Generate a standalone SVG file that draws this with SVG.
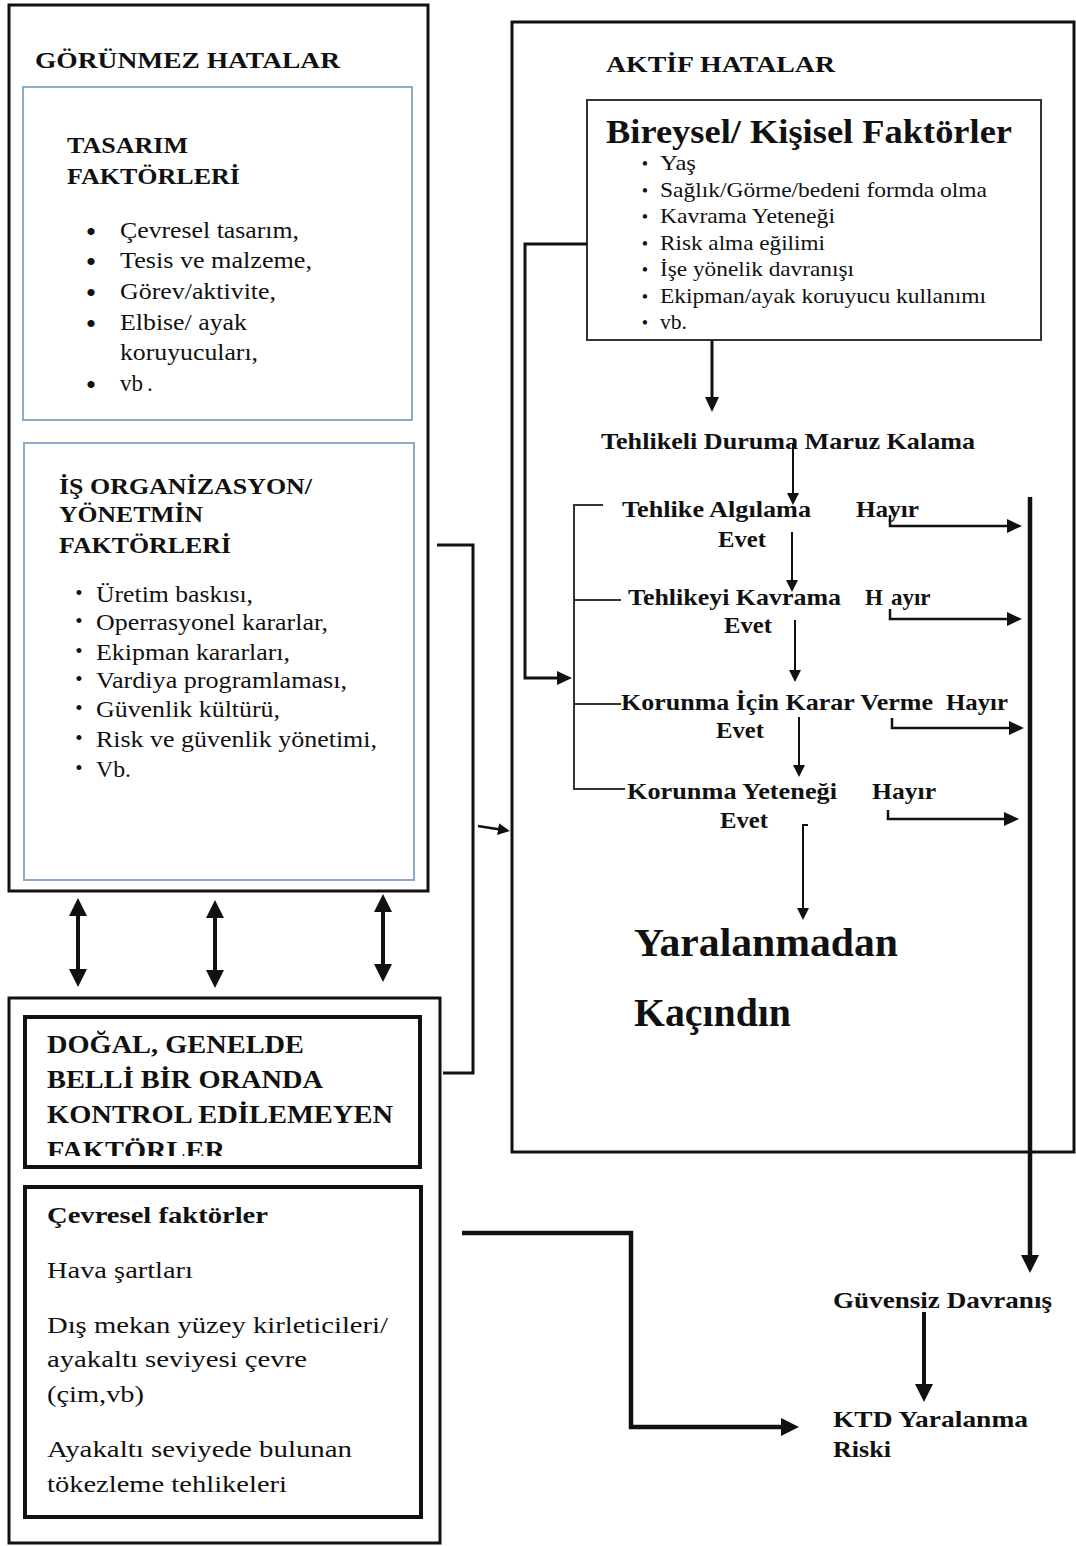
<svg xmlns="http://www.w3.org/2000/svg" width="1076" height="1546" viewBox="0 0 1076 1546" font-family="'Liberation Serif', 'Times New Roman', serif">
  <style>
    .box { fill: none; stroke: #111; stroke-width: 3; }
    .thin { fill: none; stroke: #333; stroke-width: 2; }
    .blue { fill: none; stroke: #8eaacb; stroke-width: 2; }
    .heavy { fill: none; stroke: #111; stroke-width: 4; }
    text { font-family: "Liberation Serif", "Times New Roman", serif; fill: #111; }
    .b { font-weight: bold; }
    .h { font-size: 24px; font-weight: bold; }
    .li { font-size: 23px; }
    .sm { font-size: 21px; }
    .fl { font-size: 23px; font-weight: bold; }
    .big { font-size: 40px; font-weight: bold; }
    .c { fill: none; stroke: #111; }
  </style>
  <defs>
    <marker id="ah-lg" markerUnits="userSpaceOnUse" markerWidth="18" markerHeight="18" viewBox="0 0 18 18" refX="2" refY="9" orient="auto-start-reverse">
      <path d="M0,0 L18,9 L0,18 z" fill="#111"/>
    </marker>
    <marker id="ah-md" markerUnits="userSpaceOnUse" markerWidth="15" markerHeight="14" viewBox="0 0 15 14" refX="2" refY="7" orient="auto">
      <path d="M0,0 L15,7 L0,14 z" fill="#111"/>
    </marker>
    <marker id="ah-sm" markerUnits="userSpaceOnUse" markerWidth="12" markerHeight="12" viewBox="0 0 12 12" refX="2" refY="6" orient="auto">
      <path d="M0,0 L12,6 L0,12 z" fill="#111"/>
    </marker>
    <clipPath id="clip-dogal"><rect x="25" y="1017" width="395" height="139"/></clipPath>
    <clipPath id="clip-bireysel"><rect x="587" y="100" width="454" height="233"/></clipPath>
  </defs>

  <rect width="1076" height="1546" fill="#fff"/>

  <!-- Latent errors column -->
  <g id="gorunmez-hatalar">
    <rect class="box" x="9" y="5" width="419" height="886"/>
    <text class="h" x="35" y="68" textLength="305" lengthAdjust="spacingAndGlyphs">GÖRÜNMEZ HATALAR</text>
  </g>

  <g id="tasarim-faktorleri">
    <rect class="blue" x="23" y="87" width="389" height="333"/>
    <text class="h" x="67" y="153" textLength="121" lengthAdjust="spacingAndGlyphs">TASARIM</text>
    <text class="h" x="67" y="184" textLength="173" lengthAdjust="spacingAndGlyphs">FAKTÖRLERİ</text>
    <g style="font-size:30px" text-anchor="middle">
      <text x="91" y="242">•</text>
      <text x="91" y="272">•</text>
      <text x="91" y="303">•</text>
      <text x="91" y="334">•</text>
      <text x="91" y="395">•</text>
    </g>
    <text class="li" x="120" y="238" textLength="179" lengthAdjust="spacingAndGlyphs">Çevresel tasarım,</text>
    <text class="li" x="120" y="268" textLength="192" lengthAdjust="spacingAndGlyphs">Tesis ve malzeme,</text>
    <text class="li" x="120" y="299" textLength="156" lengthAdjust="spacingAndGlyphs">Görev/aktivite,</text>
    <text class="li" x="120" y="330" textLength="127" lengthAdjust="spacingAndGlyphs">Elbise/ ayak</text>
    <text class="li" x="120" y="360" textLength="138" lengthAdjust="spacingAndGlyphs">koruyucuları,</text>
    <text class="li" x="120" y="391">vb<tspan dx="4">.</tspan></text>
  </g>

  <g id="is-organizasyon">
    <rect class="blue" x="24" y="443" width="390" height="437"/>
    <text class="h" x="59" y="494" textLength="253" lengthAdjust="spacingAndGlyphs">İŞ ORGANİZASYON/</text>
    <text class="h" x="59" y="522" textLength="144" lengthAdjust="spacingAndGlyphs">YÖNETMİN</text>
    <text class="h" x="59" y="553" textLength="172" lengthAdjust="spacingAndGlyphs">FAKTÖRLERİ</text>
    <g style="font-size:21px" text-anchor="middle">
      <text x="79" y="600">•</text>
      <text x="79" y="628">•</text>
      <text x="79" y="658">•</text>
      <text x="79" y="686">•</text>
      <text x="79" y="715">•</text>
      <text x="79" y="745">•</text>
      <text x="79" y="775">•</text>
    </g>
    <text class="li" x="96" y="602" textLength="157" lengthAdjust="spacingAndGlyphs">Üretim baskısı,</text>
    <text class="li" x="96" y="630" textLength="232" lengthAdjust="spacingAndGlyphs">Operrasyonel kararlar,</text>
    <text class="li" x="96" y="660" textLength="194" lengthAdjust="spacingAndGlyphs">Ekipman kararları,</text>
    <text class="li" x="96" y="688" textLength="251" lengthAdjust="spacingAndGlyphs">Vardiya programlaması,</text>
    <text class="li" x="96" y="717" textLength="184" lengthAdjust="spacingAndGlyphs">Güvenlik kültürü,</text>
    <text class="li" x="96" y="747" textLength="281" lengthAdjust="spacingAndGlyphs">Risk ve güvenlik yönetimi,</text>
    <text class="li" x="96" y="777" textLength="35" lengthAdjust="spacingAndGlyphs">Vb.</text>
  </g>

  <!-- Natural, largely uncontrollable factors -->
  <g id="dogal-faktorler">
    <rect class="box" x="9" y="998" width="431" height="545"/>
    <rect class="heavy" x="25" y="1017" width="395" height="150"/>
    <g clip-path="url(#clip-dogal)" style="font-size:25px;font-weight:bold">
      <text x="47" y="1053" textLength="257" lengthAdjust="spacingAndGlyphs">DOĞAL, GENELDE</text>
      <text x="47" y="1088" textLength="276" lengthAdjust="spacingAndGlyphs">BELLİ BİR ORANDA</text>
      <text x="47" y="1123" textLength="346" lengthAdjust="spacingAndGlyphs">KONTROL EDİLEMEYEN</text>
      <text x="47" y="1159" textLength="178" lengthAdjust="spacingAndGlyphs">FAKTÖRLER</text>
    </g>
  </g>

  <g id="cevresel-faktorler">
    <rect class="heavy" x="25" y="1187" width="396" height="330"/>
    <text class="b" style="font-size:24px" x="47" y="1223" textLength="221" lengthAdjust="spacingAndGlyphs">Çevresel faktörler</text>
    <g style="font-size:24px">
      <text x="47" y="1278" textLength="146" lengthAdjust="spacingAndGlyphs">Hava şartları</text>
      <text x="47" y="1333" textLength="341" lengthAdjust="spacingAndGlyphs">Dış mekan yüzey kirleticileri/</text>
      <text x="47" y="1367" textLength="260" lengthAdjust="spacingAndGlyphs">ayakaltı seviyesi çevre</text>
      <text x="47" y="1402" textLength="97" lengthAdjust="spacingAndGlyphs">(çim,vb)</text>
      <text x="47" y="1457" textLength="305" lengthAdjust="spacingAndGlyphs">Ayakaltı seviyede bulunan</text>
      <text x="47" y="1492" textLength="240" lengthAdjust="spacingAndGlyphs">tökezleme tehlikeleri</text>
    </g>
  </g>

  <!-- Active errors column -->
  <g id="aktif-hatalar">
    <rect class="box" x="512" y="22" width="562" height="1130"/>
    <text class="h" x="606" y="72" textLength="229" lengthAdjust="spacingAndGlyphs">AKTİF HATALAR</text>
  </g>

  <g id="bireysel-faktorler">
    <rect class="thin" x="587" y="100" width="454" height="240"/>
    <text class="b" style="font-size:33px" x="606" y="143" textLength="406" lengthAdjust="spacingAndGlyphs">Bireysel/ Kişisel Faktörler</text>
    <g clip-path="url(#clip-bireysel)">
      <g style="font-size:18px" text-anchor="middle">
        <text x="645" y="170">•</text>
        <text x="645" y="197">•</text>
        <text x="645" y="223">•</text>
        <text x="645" y="250">•</text>
        <text x="645" y="276">•</text>
        <text x="645" y="303">•</text>
        <text x="645" y="329">•</text>
      </g>
      <g class="sm">
        <text x="660" y="170" textLength="36" lengthAdjust="spacingAndGlyphs">Yaş</text>
        <text x="660" y="197" textLength="327" lengthAdjust="spacingAndGlyphs">Sağlık/Görme/bedeni formda olma</text>
        <text x="660" y="223" textLength="175" lengthAdjust="spacingAndGlyphs">Kavrama Yeteneği</text>
        <text x="660" y="250" textLength="165" lengthAdjust="spacingAndGlyphs">Risk alma eğilimi</text>
        <text x="660" y="276" textLength="194" lengthAdjust="spacingAndGlyphs">İşe yönelik davranışı</text>
        <text x="660" y="303" textLength="326" lengthAdjust="spacingAndGlyphs">Ekipman/ayak koruyucu kullanımı</text>
        <text x="660" y="329" textLength="27" lengthAdjust="spacingAndGlyphs">vb.</text>
      </g>
    </g>
  </g>

  <g id="tehlikeli-durum">
    <text class="fl" x="601" y="449" textLength="374" lengthAdjust="spacingAndGlyphs">Tehlikeli Duruma Maruz Kalama</text>
  </g>

  <g id="tehlike-algilama">
    <text class="fl" x="622" y="517" textLength="189" lengthAdjust="spacingAndGlyphs">Tehlike Algılama</text>
    <text class="fl" x="856" y="517" textLength="63" lengthAdjust="spacingAndGlyphs">Hayır</text>
    <text class="fl" x="718" y="547" textLength="48" lengthAdjust="spacingAndGlyphs">Evet</text>
  </g>

  <g id="tehlikeyi-kavrama">
    <text class="fl" x="628" y="605" textLength="213" lengthAdjust="spacingAndGlyphs">Tehlikeyi Kavrama</text>
    <text class="fl" x="865" y="605">H<tspan dx="8">ayır</tspan></text>
    <text class="fl" x="724" y="633" textLength="48" lengthAdjust="spacingAndGlyphs">Evet</text>
  </g>

  <g id="karar-verme">
    <text class="fl" x="621" y="710" textLength="312" lengthAdjust="spacingAndGlyphs">Korunma İçin Karar Verme</text>
    <text class="fl" x="946" y="710" textLength="62" lengthAdjust="spacingAndGlyphs">Hayır</text>
    <text class="fl" x="716" y="738" textLength="48" lengthAdjust="spacingAndGlyphs">Evet</text>
  </g>

  <g id="korunma-yetenegi">
    <text class="fl" x="627" y="799" textLength="210" lengthAdjust="spacingAndGlyphs">Korunma Yeteneği</text>
    <text class="fl" x="872" y="799" textLength="64" lengthAdjust="spacingAndGlyphs">Hayır</text>
    <text class="fl" x="720" y="828" textLength="48" lengthAdjust="spacingAndGlyphs">Evet</text>
  </g>

  <g id="yaralanmadan-kacindin">
    <text class="big" x="634" y="956" textLength="264" lengthAdjust="spacingAndGlyphs">Yaralanmadan</text>
    <text class="big" x="634" y="1026" textLength="157" lengthAdjust="spacingAndGlyphs">Kaçındın</text>
  </g>

  <g id="guvensiz-davranis">
    <text class="fl" x="833" y="1308" textLength="219" lengthAdjust="spacingAndGlyphs">Güvensiz Davranış</text>
  </g>

  <g id="ktd-riski">
    <text class="fl" x="833" y="1427" textLength="195" lengthAdjust="spacingAndGlyphs">KTD Yaralanma</text>
    <text class="fl" x="833" y="1457" textLength="58" lengthAdjust="spacingAndGlyphs">Riski</text>
  </g>

  <!-- Connectors -->
  <g id="connectors">
    <!-- individual factors down to exposure -->
    <path class="c" stroke-width="3" d="M712,340 V399" marker-end="url(#ah-md)"/>
    <!-- decision chain -->
    <path class="c" stroke-width="2" d="M793,443 V495" marker-end="url(#ah-sm)"/>
    <path class="c" stroke-width="2" d="M792,532 V582" marker-end="url(#ah-sm)"/>
    <path class="c" stroke-width="2" d="M795,620 V672" marker-end="url(#ah-sm)"/>
    <path class="c" stroke-width="2" d="M799,717 V767" marker-end="url(#ah-sm)"/>
    <path class="c" stroke-width="2" d="M808,825 H803 V910" marker-end="url(#ah-sm)"/>
    <!-- "no" branches -->
    <path class="c" stroke-width="2.5" d="M890,515 V526 H1009" marker-end="url(#ah-md)"/>
    <path class="c" stroke-width="2.5" d="M890,609 V619 H1009" marker-end="url(#ah-md)"/>
    <path class="c" stroke-width="2.5" d="M892,718 V728 H1011" marker-end="url(#ah-md)"/>
    <path class="c" stroke-width="2.5" d="M888,810 V819 H1006" marker-end="url(#ah-md)"/>
    <!-- collector down to unsafe behaviour -->
    <path class="c" stroke-width="4.5" d="M1030,497 V1257" marker-end="url(#ah-lg)"/>
    <!-- decision bracket -->
    <path class="thin" d="M603,505 H574 V789 H625 M574,600 H621 M574,704 H621"/>
    <!-- individual factors into bracket -->
    <path class="c" stroke-width="3" d="M587,244 H525 V678 H559" marker-end="url(#ah-md)"/>
    <!-- latent + natural factors into active errors -->
    <path class="c" stroke-width="3" d="M437,545 H473 V1073 H443"/>
    <path class="c" stroke-width="2.5" d="M478,826 L500,829.5" marker-end="url(#ah-sm)"/>
    <!-- two-way links between left boxes -->
    <path class="c" stroke-width="4" d="M78,914 V971" marker-start="url(#ah-lg)" marker-end="url(#ah-lg)"/>
    <path class="c" stroke-width="4" d="M215,916 V972" marker-start="url(#ah-lg)" marker-end="url(#ah-lg)"/>
    <path class="c" stroke-width="4" d="M383,910 V966" marker-start="url(#ah-lg)" marker-end="url(#ah-lg)"/>
    <!-- environmental factors to injury risk -->
    <path class="c" stroke-width="4.5" d="M462,1233 H631 V1427 H783" marker-end="url(#ah-lg)"/>
    <path class="c" stroke-width="4" d="M924,1312 V1386" marker-end="url(#ah-lg)"/>
  </g>
</svg>
